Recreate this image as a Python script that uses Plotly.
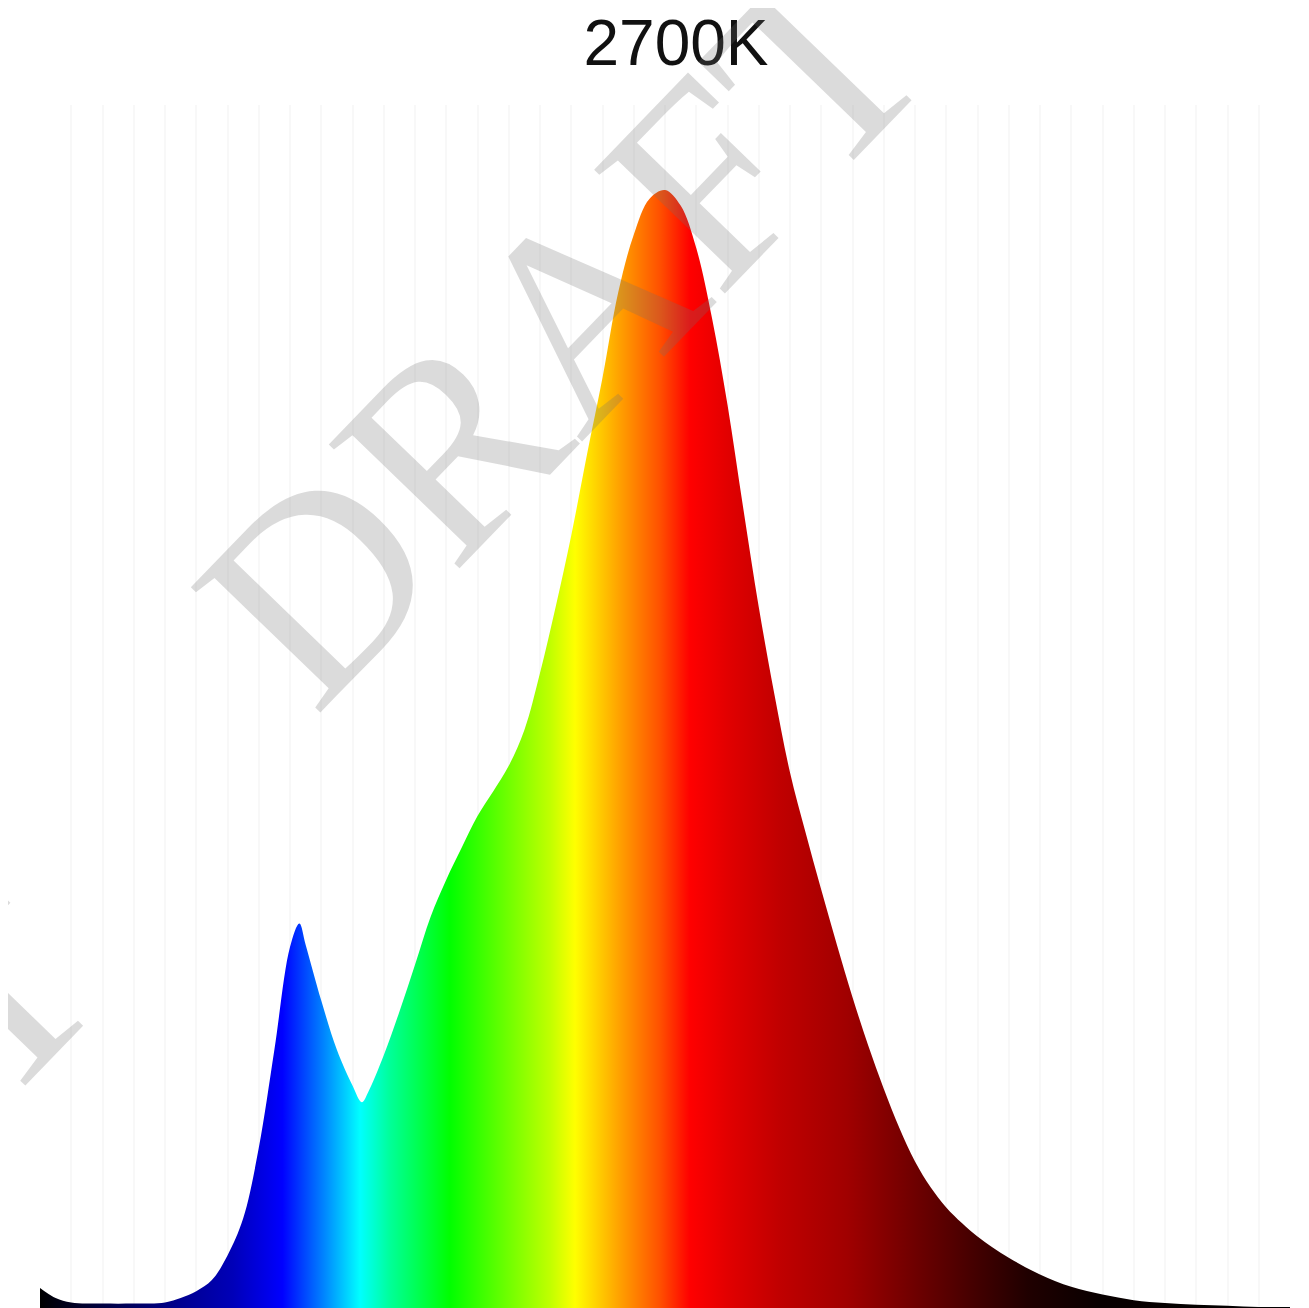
import plotly.graph_objects as go

# Spectral power distribution, 2700K (relative intensity)
wavelength_nm = [380, 385, 390, 400, 410, 420, 425, 430, 435, 440,
                 445, 450, 455, 460, 463, 465, 470, 475, 480, 483,
                 485, 490, 495, 500, 505, 510, 515, 520, 525, 530,
                 535, 540, 545, 550, 555, 560, 565, 570, 575, 580,
                 585, 590, 595, 600, 605, 610, 615, 620, 625,
                 630, 635, 640, 645, 650, 655, 660, 665, 670, 675,
                 680, 690, 700, 710, 720, 730, 740, 750, 760, 770,
                 780]
intensity = [0.018, 0.009, 0.005, 0.004, 0.004, 0.005, 0.009, 0.015, 0.025, 0.047,
             0.080, 0.143, 0.231, 0.323, 0.344, 0.325, 0.275, 0.231, 0.199, 0.184,
             0.193, 0.226, 0.265, 0.307, 0.350, 0.383, 0.412, 0.440, 0.462, 0.485,
             0.517, 0.568, 0.627, 0.691, 0.763, 0.832, 0.908, 0.960, 0.992, 1.0,
             0.986, 0.948, 0.886, 0.808, 0.716, 0.627, 0.549, 0.479, 0.425,
             0.374, 0.325, 0.278, 0.235, 0.196, 0.161, 0.131, 0.108, 0.090, 0.076,
             0.064, 0.045, 0.030, 0.019, 0.012, 0.007, 0.0045, 0.003, 0.002, 0.001,
             0.001]

title_text = "2700K"
watermark_text = "DRAFT"

spectrum_colors = [
    [0.000, "#000000"], [0.112, "#000090"], [0.154, "#0000B8"], [0.194, "#0000FF"],
    [0.226, "#0080FF"], [0.256, "#00FFFF"], [0.280, "#00FF99"], [0.328, "#00FF00"],
    [0.368, "#60FF00"], [0.408, "#C0FF00"], [0.428, "#FFFF00"], [0.464, "#FFA000"],
    [0.496, "#FF5000"], [0.520, "#FF0000"], [0.552, "#E00000"], [0.592, "#C00000"],
    [0.646, "#A00000"], [0.698, "#700000"], [0.752, "#400000"], [0.790, "#200000"],
    [0.848, "#080000"], [1.000, "#000000"],
]

fig = go.Figure()
fig.add_trace(go.Scatter(
    x=wavelength_nm, y=intensity, mode="lines",
    line=dict(width=0, shape="spline", smoothing=1.0),
    fill="tozeroy",
    fillgradient=dict(type="horizontal", colorscale=spectrum_colors, start=380, stop=780),
    hoverinfo="skip", showlegend=False,
))

wm_color = "rgba(110,110,110,0.25)"
fig.add_annotation(text=watermark_text, xref="paper", yref="paper", x=0.417, y=0.814,
                   xanchor="center", yanchor="middle", showarrow=False, textangle=-46,
                   font=dict(family="Liberation Serif", size=275, color=wm_color))
fig.add_annotation(text=watermark_text, xref="paper", yref="paper", x=-0.246, y=0.044,
                   xanchor="center", yanchor="middle", showarrow=False, textangle=-46,
                   font=dict(family="Liberation Serif", size=275, color=wm_color))

# the page body has an 8px default margin; margins below compensate for it
fig.update_layout(
    width=1309, height=1308,
    margin=dict(l=32, r=27, t=97, b=8),
    paper_bgcolor="white", plot_bgcolor="white",
    title=dict(text=title_text, x=0.5103, xanchor="center", y=0.9732, yanchor="middle",
               font=dict(family="Liberation Sans", size=64, color="#111111")),
    xaxis=dict(range=[380, 780], showticklabels=False, ticks="", zeroline=False,
               showgrid=True, dtick=10, gridcolor="#F8F8F8", gridwidth=2, showline=False),
    yaxis=dict(range=[0, 1.076], showticklabels=False, ticks="", zeroline=False,
               showgrid=False, showline=False),
)

fig.write_html("out.html")
